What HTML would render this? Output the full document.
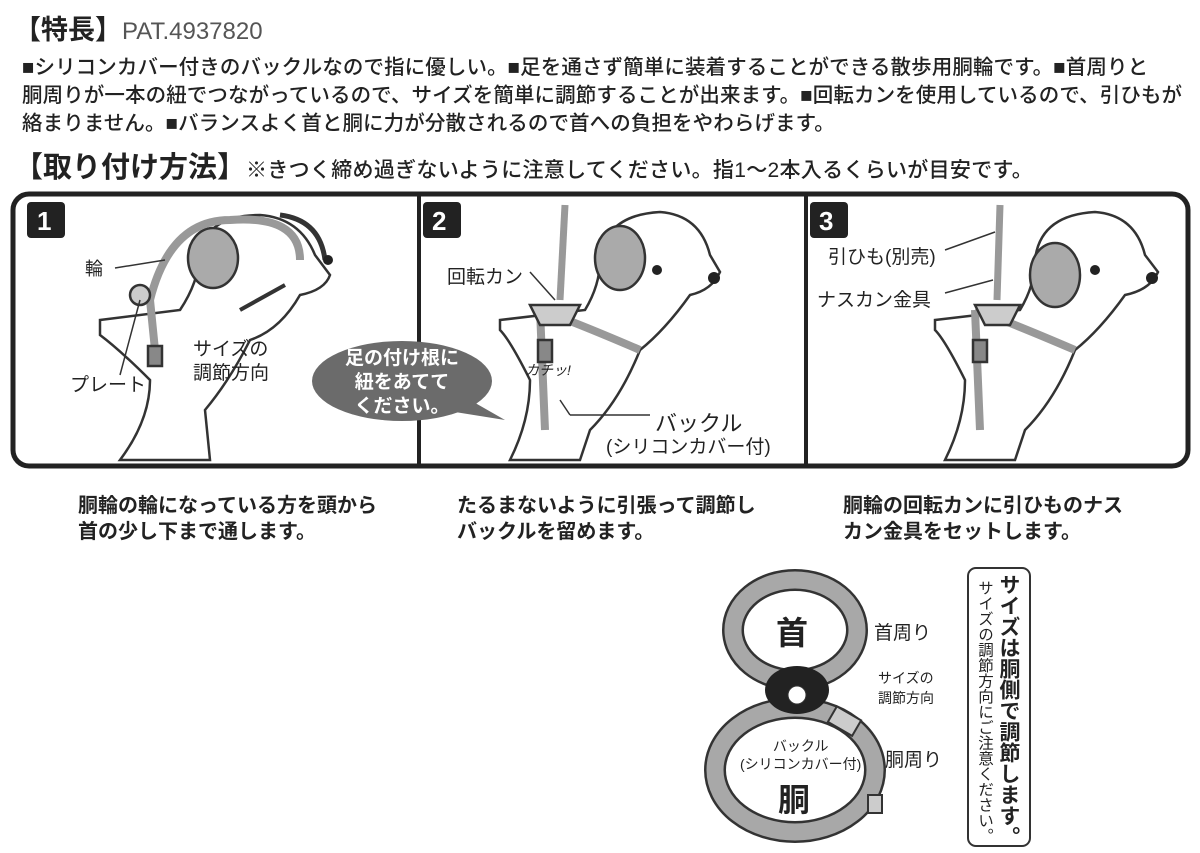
<!DOCTYPE html>
<html><head><meta charset="utf-8"><style>
body{margin:0;width:1200px;height:853px;background:#fff;overflow:hidden;position:relative;font-family:"Liberation Sans","Noto Sans CJK JP",sans-serif;color:#222}
.a{position:absolute;white-space:nowrap}
.p{font-size:20.5px;font-weight:500;letter-spacing:0.1px}
.cap{font-size:20px;font-weight:600;line-height:26px}
</style></head><body>
<div class="a" style="left:14px;top:8px;font-size:27px;font-weight:700">【特長】<span style="font-weight:400;color:#555;font-size:24px">PAT.4937820</span></div>
<div class="a p" style="left:22px;top:50px">■シリコンカバー付きのバックルなので指に優しい。■足を通さず簡単に装着することができる散歩用胴輪です。■首周りと</div>
<div class="a p" style="left:22px;top:78px">胴周りが一本の紐でつながっているので、サイズを簡単に調節することが出来ます。■回転カンを使用しているので、引ひもが</div>
<div class="a p" style="left:22px;top:106px">絡まりません。■バランスよく首と胴に力が分散されるので首への負担をやわらげます。</div>
<div class="a" style="left:14px;top:144px;font-size:29px;font-weight:700">【取り付け方法】<span style="font-size:21px;font-weight:500;letter-spacing:0.3px">※きつく締め過ぎないように注意してください。指1～2本入るくらいが目安です。</span></div>

<svg class="a" style="left:0;top:0" width="1200" height="853">
<rect x="13" y="194" width="1175" height="272" rx="16" fill="#fff" stroke="#222" stroke-width="5"/>
<line x1="419" y1="194" x2="419" y2="466" stroke="#222" stroke-width="4"/>
<line x1="806" y1="194" x2="806" y2="466" stroke="#222" stroke-width="4"/>
<g font-family="Liberation Sans" font-weight="700" font-size="26" fill="#fff">
<rect x="27" y="202" width="38" height="36" rx="4" fill="#222"/><text x="37" y="230">1</text>
<rect x="423" y="202" width="38" height="36" rx="4" fill="#222"/><text x="432" y="230">2</text>
<rect x="810" y="202" width="38" height="36" rx="4" fill="#222"/><text x="819" y="230">3</text>
</g>
<g stroke="#333" stroke-width="2.5" fill="#fff">
<path d="M100 320 L180 310 Q200 280 200 250 Q210 215 260 215 Q300 218 315 255 L330 275 Q325 290 300 295 Q280 330 250 340 Q230 380 205 410 L210 460 L120 460 Q150 420 150 380 Q120 350 100 335Z"/>
<ellipse cx="213" cy="258" rx="25" ry="30" fill="#aaa"/>
<path d="M150 300 Q170 220 230 220 Q300 215 300 260" fill="none" stroke="#999" stroke-width="8"/>
<path d="M150 300 L155 350" stroke="#999" stroke-width="8"/>
<rect x="148" y="346" width="14" height="20" fill="#888"/>
<circle cx="140" cy="295" r="10" fill="#ccc"/>
<path d="M280 215 Q320 220 325 260" fill="none" stroke="#333" stroke-width="5"/>
<path d="M240 310 L285 285" stroke="#333" stroke-width="4"/>
</g>
<circle cx="328" cy="260" r="5" fill="#222"/>
<g stroke="#333" stroke-width="2.5" fill="#fff">
<path d="M500 320 L585 310 Q600 285 600 260 Q605 215 660 212 Q700 215 710 255 L720 272 Q712 290 690 295 Q665 330 640 350 Q620 400 590 430 L580 460 L510 460 Q530 420 530 380 Q510 340 500 330Z"/>
<ellipse cx="620" cy="258" rx="25" ry="32" fill="#aaa"/>
<path d="M540 310 Q570 320 640 350" fill="none" stroke="#999" stroke-width="8"/>
<path d="M540 310 L545 430" stroke="#999" stroke-width="8"/>
<rect x="538" y="340" width="14" height="22" fill="#888"/>
<path d="M530 305 L580 305 L570 325 L540 325Z" fill="#ccc"/>
<line x1="565" y1="205" x2="560" y2="300" stroke="#999" stroke-width="7"/>
</g>
<circle cx="714" cy="278" r="6" fill="#222"/><circle cx="657" cy="270" r="5" fill="#222"/>
<ellipse cx="402" cy="381" rx="90" ry="40" fill="#6b6b6b"/>
<path d="M470 400 L505 420 L455 412Z" fill="#6b6b6b"/>
<g stroke="#333" stroke-width="2.5" fill="#fff">
<path d="M935 320 L1020 310 Q1035 285 1035 260 Q1040 215 1095 212 Q1135 215 1145 255 L1158 272 Q1150 290 1125 295 Q1100 330 1075 350 Q1055 400 1025 430 L1015 460 L945 460 Q965 420 965 380 Q945 340 935 330Z"/>
<ellipse cx="1055" cy="275" rx="25" ry="32" fill="#aaa"/>
<path d="M975 310 Q1005 320 1075 350" fill="none" stroke="#999" stroke-width="8"/>
<path d="M975 310 L980 430" stroke="#999" stroke-width="8"/>
<rect x="973" y="340" width="14" height="22" fill="#888"/>
<path d="M975 305 L1020 305 L1010 325 L985 325Z" fill="#ccc"/>
<line x1="1000" y1="205" x2="997" y2="300" stroke="#999" stroke-width="7"/>
</g>
<circle cx="1152" cy="278" r="6" fill="#222"/><circle cx="1095" cy="270" r="5" fill="#222"/>
<g stroke="#333" stroke-width="1.5">
<line x1="115" y1="268" x2="165" y2="260"/><line x1="120" y1="375" x2="140" y2="300"/>
<line x1="530" y1="272" x2="555" y2="300"/><line x1="560" y1="400" x2="570" y2="415"/><line x1="570" y1="415" x2="650" y2="415"/>
<line x1="945" y1="250" x2="995" y2="232"/><line x1="945" y1="293" x2="993" y2="280"/>
</g>
<g fill="none">
<ellipse cx="795" cy="630" rx="62" ry="50" stroke="#333" stroke-width="22"/>
<ellipse cx="795" cy="630" rx="62" ry="50" stroke="#a8a8a8" stroke-width="17"/>
<ellipse cx="795" cy="770" rx="80" ry="62" stroke="#333" stroke-width="22"/>
<ellipse cx="795" cy="770" rx="80" ry="62" stroke="#a8a8a8" stroke-width="17"/>
</g>
<ellipse cx="797" cy="690" rx="32" ry="24" fill="#222"/>
<circle cx="797" cy="695" r="9" fill="#fff" stroke="#333"/>
<rect x="830" y="712" width="28" height="18" fill="#ccc" stroke="#333" stroke-width="2" transform="rotate(30 844 722)"/>
<rect x="868" y="795" width="14" height="18" fill="#ccc" stroke="#333" stroke-width="2"/>
<rect x="968" y="568" width="62" height="278" rx="8" fill="#fff" stroke="#333" stroke-width="2"/>
</svg>

<div class="a" style="left:85px;top:255px;font-size:18px">輪</div>
<div class="a" style="left:70px;top:370px;font-size:19px">プレート</div>
<div class="a" style="left:193px;top:338px;font-size:19px;line-height:24px">サイズの<br>調節方向</div>
<div class="a" style="left:345px;top:347px;font-size:19px;font-weight:700;color:#fff;line-height:24px;text-align:center">足の付け根に<br>紐をあてて<br>ください。</div>
<div class="a" style="left:447px;top:262px;font-size:19px">回転カン</div>
<div class="a" style="left:525px;top:360px;font-size:14px;font-style:italic">カチッ!</div>
<div class="a" style="left:655px;top:406px;font-size:22px">バックル</div>
<div class="a" style="left:606px;top:432px;font-size:19px">(シリコンカバー付)</div>
<div class="a" style="left:828px;top:242px;font-size:19px">引ひも(別売)</div>
<div class="a" style="left:817px;top:285px;font-size:19px">ナスカン金具</div>

<div class="a cap" style="left:78px;top:493px">胴輪の輪になっている方を頭から<br>首の少し下まで通します。</div>
<div class="a cap" style="left:457px;top:493px">たるまないように引張って調節し<br>バックルを留めます。</div>
<div class="a cap" style="left:843px;top:493px">胴輪の回転カンに引ひものナス<br>カン金具をセットします。</div>

<div class="a" style="left:776px;top:608px;font-size:32px;font-weight:700">首</div>
<div class="a" style="left:778px;top:775px;font-size:32px;font-weight:700">胴</div>
<div class="a" style="left:874px;top:618px;font-size:19px">首周り</div>
<div class="a" style="left:878px;top:668px;font-size:14px;line-height:20px">サイズの<br>調節方向</div>
<div class="a" style="left:885px;top:745px;font-size:19px">胴周り</div>
<div class="a" style="left:740px;top:737px;font-size:14px;line-height:18px;text-align:center">バックル<br>(シリコンカバー付)</div>
<div class="a" style="left:996px;top:574px;writing-mode:vertical-rl;font-size:21px;font-weight:700;line-height:24px">サイズは胴側で調節します。</div>
<div class="a" style="left:974px;top:580px;writing-mode:vertical-rl;font-size:15.5px;line-height:20px">サイズの調節方向にご注意ください。</div>
</body></html>
